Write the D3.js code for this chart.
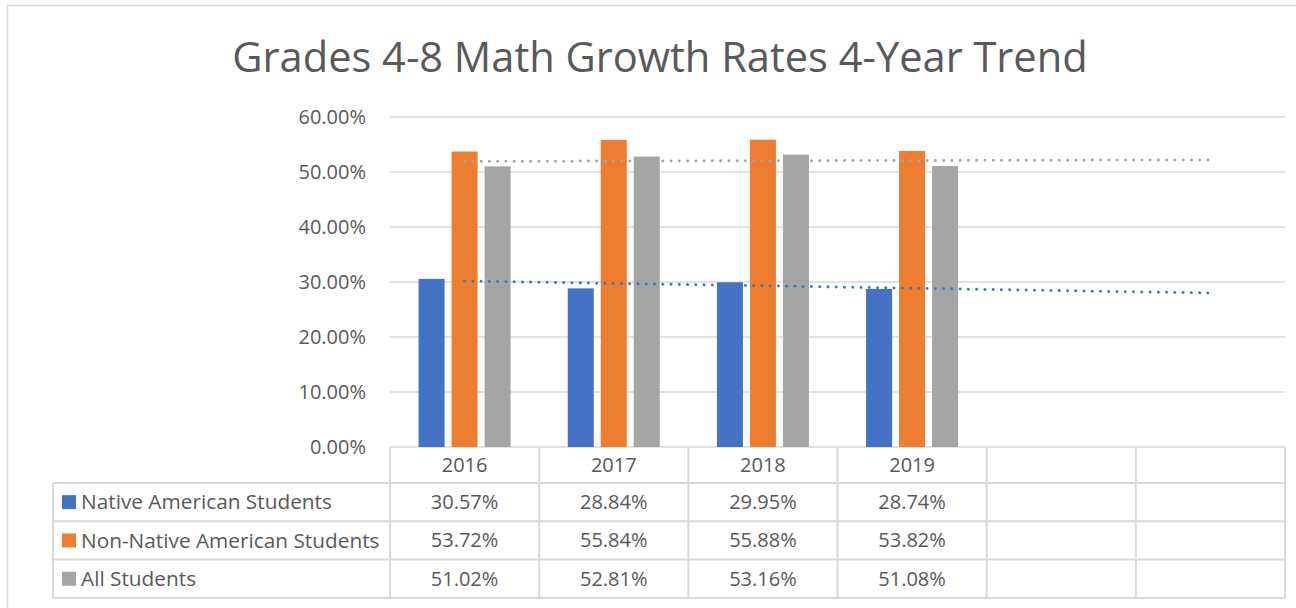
<!DOCTYPE html>
<meta charset="utf-8">
<style>
  body { margin: 0; background: #fff; }
  svg { display: block; font-family: "Open Sans", sans-serif; }
  .grid line { stroke: #d9d9d9; stroke-width: 1.5px; }
  .tick-label, .cell-text { fill: #595959; font-size: 20px; }
  .legend-text { fill: #595959; font-size: 20.8px; }
  .table-line { stroke: #d9d9d9; stroke-width: 2px; }
  .trend { fill: none; stroke-width: 3px; stroke-linecap: round; stroke-dasharray: 0.01 8.25; }
</style>
<body>
<script src="https://cdn.jsdelivr.net/npm/d3@7"></script>
<script>

  // chart data
  var years = ["2016", "2017", "2018", "2019"];
  var forecastPeriods = 2;  // trendlines run 2 periods forward, table gets blank columns
  var seriesNames = ["Native American Students", "Non-Native American Students", "All Students"];
  var nativeValues = [0.3057, 0.2884, 0.2995, 0.2874];
  var nonNativeValues = [0.5372, 0.5584, 0.5588, 0.5382];
  var allValues = [0.5102, 0.5281, 0.5316, 0.5108];
  var yTicks = [0, 0.1, 0.2, 0.3, 0.4, 0.5, 0.6];
  var colors = ["#4472c4", "#ed7d31", "#a5a5a5"];
  var trendSeries = [0, 2];  // which series carry a linear trendline

  var seriesValues = [nativeValues, nonNativeValues, allValues];

  var W = 1296, H = 608;
  var plot = {left: 390, right: 1285, top: 117, bottom: 447};
  var headerH = 36, rowH = 38.3;
  var legendLeft = 53;

  var svg = d3.select("body").append("svg")
    .attr("width", W)
    .attr("height", H);

  // chart frame
  svg.append("rect")
    .attr("x", 7.5).attr("y", 5.5)
    .attr("width", W).attr("height", H)
    .attr("fill", "none")
    .attr("stroke", "#d9d9d9")
    .attr("stroke-width", 1.5);

  svg.append("text")
    .attr("x", 660)
    .attr("y", 72)
    .attr("text-anchor", "middle")
    .attr("fill", "#595959")
    .style("font-size", "41.6px")
    .text("Grades 4-8 Math Growth Rates 4-Year Trend");

  var nCols = years.length + forecastPeriods;
  var x = d3.scaleBand().domain(d3.range(nCols)).range([plot.left, plot.right]);
  var y = d3.scaleLinear().domain([0, 0.6]).range([plot.bottom, plot.top]);

  var groupW = 92;
  var xSub = d3.scaleBand().domain(d3.range(seriesNames.length))
    .range([(x.bandwidth() - groupW) / 2, (x.bandwidth() + groupW) / 2])
    .paddingInner(0.212);

  // gridlines
  svg.append("g").attr("class", "grid")
    .selectAll("line").data(yTicks).join("line")
    .attr("x1", plot.left).attr("x2", plot.right)
    .attr("y1", function(d) { return y(d); })
    .attr("y2", function(d) { return y(d); });

  svg.append("g")
    .selectAll("text").data(yTicks).join("text")
    .attr("class", "tick-label")
    .attr("x", 366)
    .attr("y", function(d) { return y(d); })
    .attr("dy", "0.35em")
    .attr("text-anchor", "end")
    .text(function(d) { return d3.format(".2%")(d); });

  // bars
  var groups = svg.append("g").selectAll("g").data(years).join("g")
    .attr("transform", function(d, i) { return "translate(" + x(i) + ",0)"; });

  groups.selectAll("rect")
    .data(function(d, i) { return seriesValues.map(function(v, s) { return {s: s, v: v[i]}; }); })
    .join("rect")
    .attr("x", function(d) { return xSub(d.s); })
    .attr("width", xSub.bandwidth())
    .attr("y", function(d) { return y(d.v); })
    .attr("height", function(d) { return plot.bottom - y(d.v); })
    .attr("fill", function(d) { return colors[d.s]; });

  // linear trendlines (least squares on the series, projected forward)
  trendSeries.forEach(function(s) {
    var vals = seriesValues[s];
    var xs = d3.range(1, vals.length + 1);
    var mx = d3.mean(xs), my = d3.mean(vals);
    var slope = d3.sum(xs, function(xi, k) { return (xi - mx) * (vals[k] - my); }) /
                d3.sum(xs, function(xi) { return (xi - mx) * (xi - mx); });
    var ends = [1, nCols].map(function(p) { return {p: p, v: my + slope * (p - mx)}; });
    svg.append("path")
      .datum(ends)
      .attr("class", "trend")
      .attr("stroke", colors[s])
      .attr("d", d3.line()
        .x(function(d) { return x(d.p - 1) + x.bandwidth() / 2; })
        .y(function(d) { return y(d.v); }));
  });

  // data table
  var tableBottom = plot.bottom + headerH + rowH * seriesNames.length;
  var tbl = svg.append("g");

  // horizontal rules
  var rowLines = d3.range(seriesNames.length + 1).map(function(r) { return plot.bottom + headerH + r * rowH; });
  tbl.selectAll("line.h").data(rowLines).join("line")
    .attr("class", "table-line")
    .attr("x1", legendLeft).attr("x2", plot.right)
    .attr("y1", function(d) { return d; }).attr("y2", function(d) { return d; });

  // vertical rules
  var colLines = d3.range(nCols + 1).map(function(c) { return c < nCols ? x(c) : plot.right; });
  tbl.selectAll("line.v").data(colLines).join("line")
    .attr("class", "table-line")
    .attr("x1", function(d) { return d; }).attr("x2", function(d) { return d; })
    .attr("y1", plot.bottom).attr("y2", tableBottom);

  tbl.append("line")
    .attr("class", "table-line")
    .attr("x1", legendLeft).attr("x2", legendLeft)
    .attr("y1", plot.bottom + headerH).attr("y2", tableBottom);

  // year header
  tbl.selectAll("text.year").data(years).join("text")
    .attr("class", "cell-text")
    .attr("x", function(d, i) { return x(i) + x.bandwidth() / 2; })
    .attr("y", plot.bottom + headerH / 2)
    .attr("dy", "0.35em")
    .attr("text-anchor", "middle")
    .text(function(d) { return d; });

  // series rows
  seriesNames.forEach(function(name, s) {
    var cy = plot.bottom + headerH + rowH * s + rowH / 2;
    tbl.append("rect")
      .attr("x", 62).attr("y", cy - 7)
      .attr("width", 14).attr("height", 14)
      .attr("fill", colors[s]);
    tbl.append("text")
      .attr("class", "legend-text")
      .attr("x", 81).attr("y", cy)
      .attr("dy", "0.35em")
      .text(name);
    tbl.selectAll("text.v" + s).data(seriesValues[s]).join("text")
      .attr("class", "cell-text")
      .attr("x", function(d, i) { return x(i) + x.bandwidth() / 2; })
      .attr("y", cy)
      .attr("dy", "0.35em")
      .attr("text-anchor", "middle")
      .text(function(d) { return d3.format(".2%")(d); });
  });

</script>
</body>
